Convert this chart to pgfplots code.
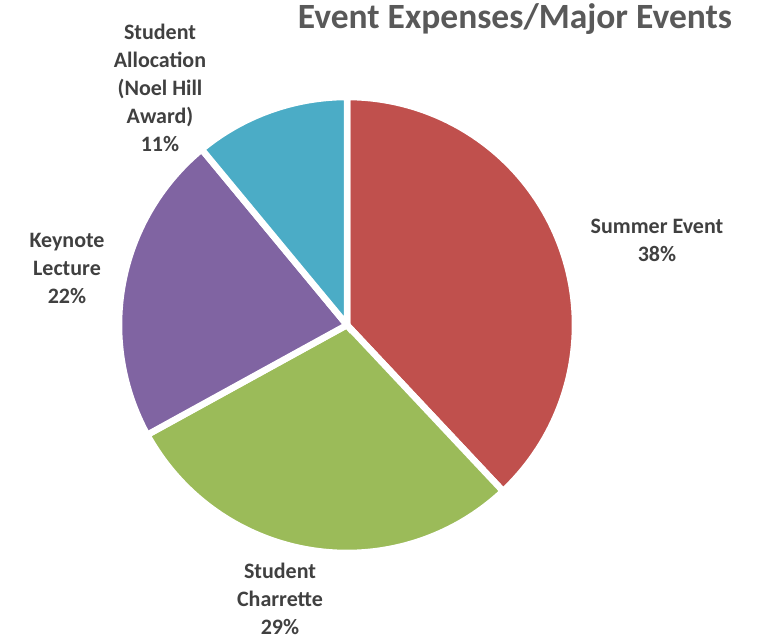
\documentclass[border=0pt]{standalone}
\usepackage{pgfplots}
\pgfplotsset{compat=1.18}
\usepackage{fontspec}
\setmainfont{Carlito}
\definecolor{cRed}{HTML}{C0504D}
\definecolor{cGreen}{HTML}{9BBB59}
\definecolor{cPurple}{HTML}{8064A2}
\definecolor{cBlue}{HTML}{4BACC6}
\definecolor{cLab}{HTML}{404040}
\definecolor{cTitle}{HTML}{595959}
% slice values (percent)
\def\vA{38}% Summer Event
\def\vB{29}% Student Charrette
\def\vC{22}% Keynote Lecture
\def\vD{11}% Student Allocation
\def\cx{347}\def\cy{317}\def\rr{228}
\pgfmathsetmacro\aA{90}
\pgfmathsetmacro\aB{\aA-3.6*\vA}
\pgfmathsetmacro\aC{\aB-3.6*\vB}
\pgfmathsetmacro\aD{\aC-3.6*\vC}
\pgfmathsetmacro\aE{\aD-3.6*\vD}
\begin{document}
\begin{tikzpicture}
\begin{axis}[width=761pt,height=642pt,scale only axis,
  xmin=0,xmax=761,ymin=0,ymax=642,hide axis,clip=false]
\path (axis cs:0,0) rectangle (axis cs:761,642);
\addplot[fill=cRed,draw=white,line width=6.5pt,domain=\aB:\aA,samples=90,variable=\t]
  ({\cx+\rr*cos(\t)},{\cy+\rr*sin(\t)}) -- (axis cs:\cx,\cy) -- cycle;
\addplot[fill=cGreen,draw=white,line width=6.5pt,domain=\aC:\aB,samples=90,variable=\t]
  ({\cx+\rr*cos(\t)},{\cy+\rr*sin(\t)}) -- (axis cs:\cx,\cy) -- cycle;
\addplot[fill=cPurple,draw=white,line width=6.5pt,domain=\aD:\aC,samples=90,variable=\t]
  ({\cx+\rr*cos(\t)},{\cy+\rr*sin(\t)}) -- (axis cs:\cx,\cy) -- cycle;
\addplot[fill=cBlue,draw=white,line width=6.5pt,domain=\aE:\aD,samples=90,variable=\t]
  ({\cx+\rr*cos(\t)},{\cy+\rr*sin(\t)}) -- (axis cs:\cx,\cy) -- cycle;
\tikzset{lab/.style={align=center,text=cLab,font=\bfseries\fontsize{22}{28}\selectfont}}
\node[lab] at (axis cs:657,402) {Summer Event\\38\%};
\node[lab] at (axis cs:280,43) {Student\\Charrette\\29\%};
\node[lab] at (axis cs:67,374) {Keynote\\Lecture\\22\%};
\node[lab] at (axis cs:160,554) {Student\\Allocation\\(Noel Hill\\Award)\\11\%};
\node[anchor=base,text=cTitle,font=\bfseries\fontsize{35.5}{42}\selectfont] at (axis cs:515,613) {Event Expenses/Major Events};
\end{axis}
\end{tikzpicture}
\end{document}
